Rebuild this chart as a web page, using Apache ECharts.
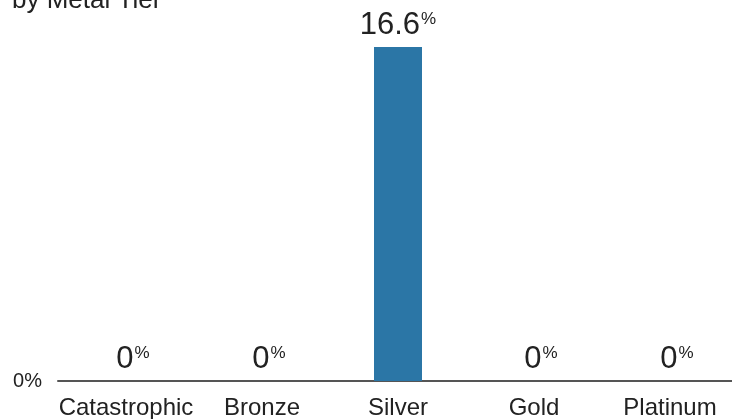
<!DOCTYPE html>
<html lang="en">
<head>
    <meta charset="UTF-8">
    <title>By Metal Tier</title>
    <style>
        html, body { margin: 0; padding: 0; background: #fff; }
        #chartContainer { width: 732px; height: 419px; }
    </style>
    <script src="https://cdnjs.cloudflare.com/ajax/libs/echarts/6.0.0/echarts.min.js"></script>
</head>
<body>
    <div id="chartContainer"></div>
    <script>
        const tiers = ['Catastrophic', 'Bronze', 'Silver', 'Gold', 'Platinum'];
        const shares = [0, 0, 16.6, 0, 0];

        const font = "'Liberation Sans', Arial, Helvetica, sans-serif";

        var chartDom = document.getElementById('chartContainer');
        var myChart = echarts.init(chartDom);

        // zero labels sit a little right of the category centre in the original
        const barData = shares.map(v => (v === 0 ? { value: v, label: { offset: [7, 0] } } : v));

        const option = {
            animation: false,
            title: {
                text: 'by Metal Tier',
                left: 12,
                top: -12,
                padding: 0,
                textStyle: { fontFamily: font, fontSize: 26, fontWeight: 'normal', color: '#222' }
            },
            grid: { left: 58, right: -6, top: 47, bottom: 38, outerBoundsMode: 'none', containLabel: false },
            xAxis: {
                type: 'category',
                data: tiers,
                axisLine: { lineStyle: { color: '#555', width: 2 } },
                axisTick: { show: false },
                axisLabel: { interval: 0, fontFamily: font, fontSize: 24, color: '#222', margin: 15 }
            },
            yAxis: {
                type: 'value',
                min: 0,
                max: 16.6,
                splitLine: { show: false },
                axisLabel: {
                    fontFamily: font, fontSize: 20, color: '#222', margin: 16,
                    formatter: v => (v === 0 ? '0%' : '')
                }
            },
            series: [{
                type: 'bar',
                data: barData,
                barWidth: 48,
                itemStyle: { color: '#2b76a6' },
                label: {
                    show: true,
                    position: 'top',
                    distance: 6,
                    formatter: p => '{v|' + p.value + '}{p|%}',
                    rich: {
                        v: { fontFamily: font, fontSize: 31, color: '#222', lineHeight: 30, verticalAlign: 'bottom' },
                        p: { fontFamily: font, fontSize: 17, color: '#222', lineHeight: 30, verticalAlign: 'top', padding: [0, 0, 0, 1] }
                    }
                }
            }]
        };

        myChart.setOption(option);
    </script>
</body>
</html>
